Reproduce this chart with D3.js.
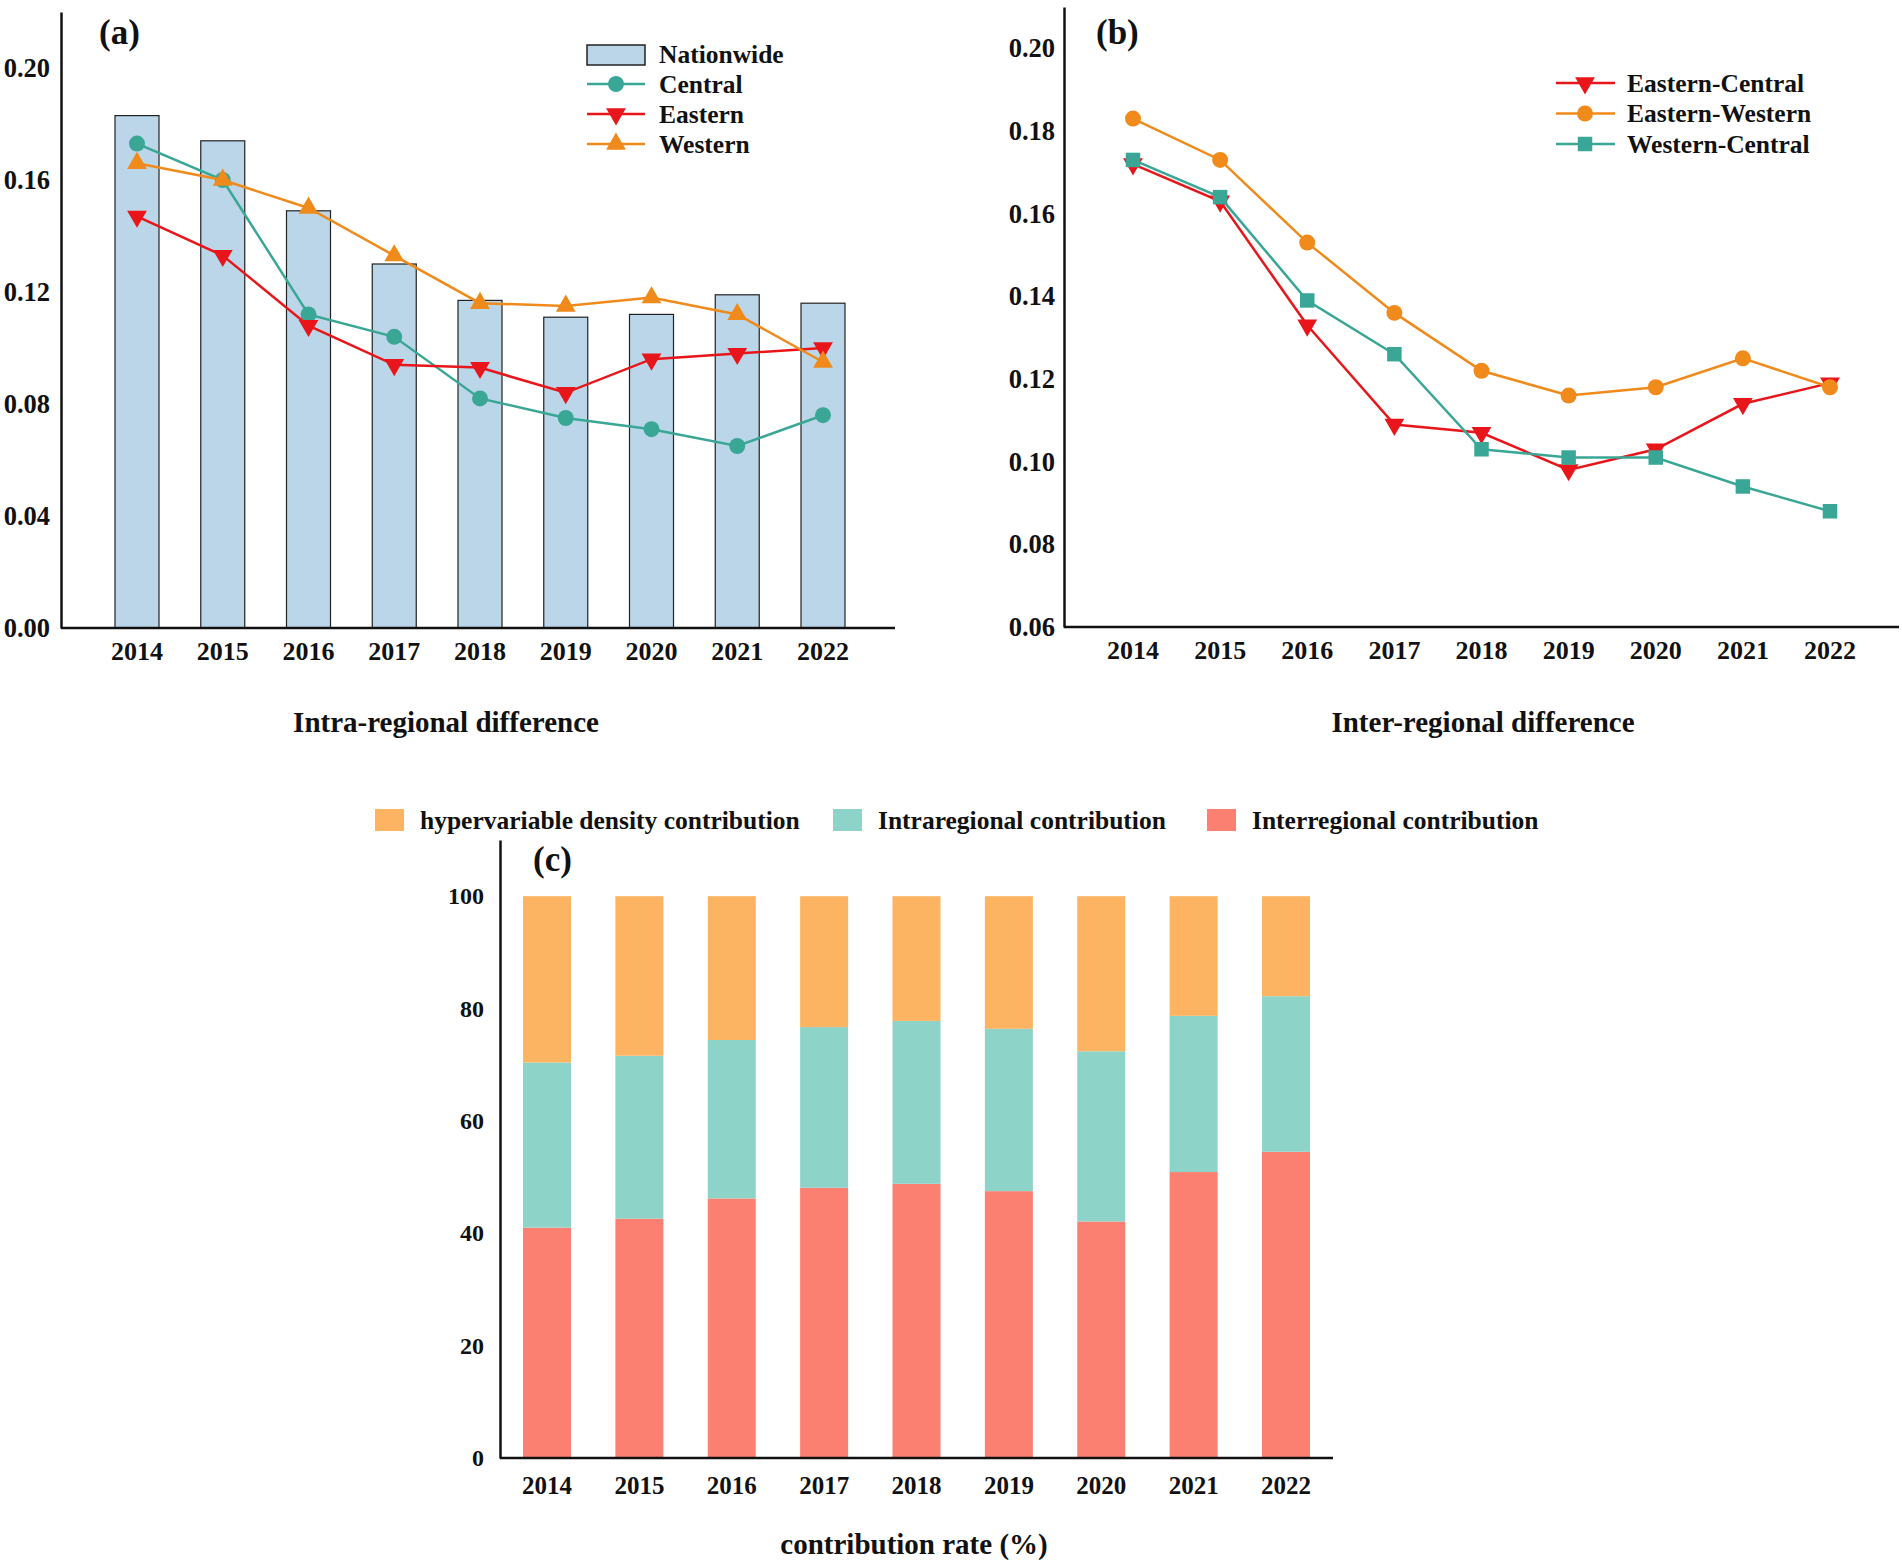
<!DOCTYPE html>
<html>
<head>
<meta charset="utf-8">
<script src="https://cdn.jsdelivr.net/npm/d3@7"></script>
<style>
    body { margin: 0; background: #fff; }
    text { font-family: "Liberation Serif", "Times New Roman", serif; font-weight: bold; fill: #111; }
</style>
</head>
<body>
<svg id="chart" width="1902" height="1563"></svg>
<script>
// roky na ose x (spolecne pro vsechny tri grafy)
const years = ["2014", "2015", "2016", "2017", "2018", "2019", "2020", "2021", "2022"];

// (a) vnitroregionalni rozdily
const nationwide = [0.183, 0.174, 0.149, 0.130, 0.117, 0.111, 0.112, 0.119, 0.116];
const central    = [0.173, 0.160, 0.112, 0.104, 0.082, 0.075, 0.071, 0.065, 0.076];
const eastern    = [0.147, 0.133, 0.108, 0.094, 0.093, 0.084, 0.096, 0.098, 0.100];
const western    = [0.166, 0.160, 0.150, 0.133, 0.116, 0.115, 0.118, 0.112, 0.095];
const ticksA = [0, 0.04, 0.08, 0.12, 0.16, 0.20];

// (b) mezi regiony
const easternCentral = [0.172, 0.163, 0.133, 0.109, 0.107, 0.098, 0.103, 0.114, 0.119];
const easternWestern = [0.183, 0.173, 0.153, 0.136, 0.122, 0.116, 0.118, 0.125, 0.118];
const westernCentral = [0.173, 0.164, 0.139, 0.126, 0.103, 0.101, 0.101, 0.094, 0.088];
const ticksB = [0.06, 0.08, 0.10, 0.12, 0.14, 0.16, 0.18, 0.20];

// (c) prispevky v procentech
const interregional = [41.0, 42.6, 46.2, 48.1, 48.8, 47.5, 42.1, 50.9, 54.5];
const intraregional = [29.4, 29.0, 28.2, 28.6, 29.0, 28.9, 30.3, 27.8, 27.7];
const hypervariable = [29.6, 28.4, 25.6, 23.3, 22.2, 23.6, 27.6, 21.3, 17.8];
const ticksC = [0, 20, 40, 60, 80, 100];

// barvy
const teal = "#3aa796", red = "#e8161a", orange = "#ef8a1b", barBlue = "#bcd6e9";
const set3 = { hyper: "#fdb462", intra: "#8dd3c7", inter: "#fb8072" };

const svg = d3.select("#chart");
svg.append("rect").attr("width", 1902).attr("height", 1563).attr("fill", "#fff");

// symboly
const circleSym = d3.symbol().type(d3.symbolCircle).size(200);
const triSym = d3.symbol().type(d3.symbolTriangle).size(170);
const squareSym = d3.symbol().type(d3.symbolSquare).size(210);

// vykresleni osy y bez carek, jen popisky a cara
function drawYAxis(g, scale, ticks, fmt, x, pad, fs) {
    const ax = g.append("g")
        .attr("transform", "translate(" + x + ",0)")
        .call(d3.axisLeft(scale).tickValues(ticks).tickFormat(fmt).tickSize(0).tickSizeOuter(0).tickPadding(pad));
    ax.select(".domain").attr("stroke", "#111").attr("stroke-width", 2.5);
    ax.selectAll("text").attr("font-size", fs).attr("font-family", null);
}

// osa x s roky
function drawXAxis(g, scale, y, x0, x1, labelY, fs) {
    g.append("line")
        .attr("x1", x0).attr("x2", x1).attr("y1", y).attr("y2", y)
        .attr("stroke", "#111").attr("stroke-width", 2.5);
    g.selectAll(".year")
        .data(years)
        .join("text")
        .attr("x", d => scale(d))
        .attr("y", labelY)
        .attr("text-anchor", "middle")
        .attr("font-size", fs)
        .text(d => d);
}

// cara se znackami
function drawSeries(g, xs, ys, values, color, sym, rotate) {
    const line = d3.line().x((d, i) => xs(years[i])).y(d => ys(d));
    g.append("path")
        .datum(values)
        .attr("d", line)
        .attr("fill", "none")
        .attr("stroke", color)
        .attr("stroke-width", 2.5);
    g.selectAll(null)
        .data(values)
        .join("path")
        .attr("d", sym)
        .attr("fill", color)
        .attr("transform", (d, i) => "translate(" + xs(years[i]) + "," + ys(d) + ")" + (rotate ? " rotate(180)" : ""));
}

// ---------- (a) ----------
const gA = svg.append("g");
const xA = d3.scalePoint().domain(years).range([137, 823]);
const yA = d3.scaleLinear().domain([0, 0.22]).range([628, 12]);
const barW = 44;

gA.selectAll(".bar")
    .data(nationwide)
    .join("rect")
    .attr("x", (d, i) => xA(years[i]) - barW / 2)
    .attr("y", d => yA(d))
    .attr("width", barW)
    .attr("height", d => yA(0) - yA(d))
    .attr("fill", barBlue)
    .attr("stroke", "#222")
    .attr("stroke-width", 1.2);

drawSeries(gA, xA, yA, central, teal, circleSym, false);
drawSeries(gA, xA, yA, eastern, red, triSym, true);
drawSeries(gA, xA, yA, western, orange, triSym, false);

drawYAxis(gA, yA, ticksA, d3.format(".2f"), 61, 11, 26.5);
drawXAxis(gA, xA, 628, 61, 895, 660, 26);

gA.append("text").attr("x", 99).attr("y", 44).attr("font-size", 35).text("(a)");
gA.append("text").attr("x", 446).attr("y", 732).attr("text-anchor", "middle")
    .attr("font-size", 29).text("Intra-regional difference");

// legenda (a)
const legA = gA.append("g");
legA.append("rect").attr("x", 587).attr("y", 45).attr("width", 58).attr("height", 20)
    .attr("fill", barBlue).attr("stroke", "#222").attr("stroke-width", 1.5);
const legAItems = [
    { name: "Central", color: teal, sym: circleSym, rot: false },
    { name: "Eastern", color: red, sym: triSym, rot: true },
    { name: "Western", color: orange, sym: triSym, rot: false }
];
legAItems.forEach((it, i) => {
    const y = 84 + i * 30;
    legA.append("line").attr("x1", 587).attr("x2", 645).attr("y1", y).attr("y2", y)
        .attr("stroke", it.color).attr("stroke-width", 2.5);
    legA.append("path").attr("d", it.sym).attr("fill", it.color)
        .attr("transform", "translate(616," + y + ")" + (it.rot ? " rotate(180)" : ""));
});
["Nationwide", "Central", "Eastern", "Western"].forEach((t, i) => {
    legA.append("text").attr("x", 659).attr("y", 54 + i * 30).attr("dy", "0.35em")
        .attr("font-size", 25.5).text(t);
});

// ---------- (b) ----------
const gB = svg.append("g");
const xB = d3.scalePoint().domain(years).range([1133, 1830]);
const yB = d3.scaleLinear().domain([0.06, 0.21]).range([627, 7]);

drawSeries(gB, xB, yB, easternCentral, red, triSym, true);
drawSeries(gB, xB, yB, easternWestern, orange, circleSym, false);
drawSeries(gB, xB, yB, westernCentral, teal, squareSym, false);

drawYAxis(gB, yB, ticksB, d3.format(".2f"), 1064, 9, 26.5);
drawXAxis(gB, xB, 627, 1064, 1899, 659, 26);

gB.append("text").attr("x", 1096).attr("y", 44).attr("font-size", 35).text("(b)");
gB.append("text").attr("x", 1483).attr("y", 732).attr("text-anchor", "middle")
    .attr("font-size", 29).text("Inter-regional difference");

// legenda (b)
const legB = gB.append("g");
const legBItems = [
    { name: "Eastern-Central", color: red, sym: triSym, rot: true },
    { name: "Eastern-Western", color: orange, sym: circleSym, rot: false },
    { name: "Western-Central", color: teal, sym: squareSym, rot: false }
];
legBItems.forEach((it, i) => {
    const y = 83 + i * 30.5;
    legB.append("line").attr("x1", 1556).attr("x2", 1615).attr("y1", y).attr("y2", y)
        .attr("stroke", it.color).attr("stroke-width", 2.5);
    legB.append("path").attr("d", it.sym).attr("fill", it.color)
        .attr("transform", "translate(1585," + y + ")" + (it.rot ? " rotate(180)" : ""));
    legB.append("text").attr("x", 1627).attr("y", y).attr("dy", "0.35em")
        .attr("font-size", 25.5).text(it.name);
});

// ---------- (c) ----------
const gC = svg.append("g");
const xC = d3.scalePoint().domain(years).range([547, 1286]);
const yC = d3.scaleLinear().domain([0, 110]).range([1458, 840]);
const barWC = 48;

// skladani sloupcu
const keys = ["inter", "intra", "hyper"];
const rows = years.map((y, i) => ({ year: y, inter: interregional[i], intra: intraregional[i], hyper: hypervariable[i] }));
const stack = d3.stack().keys(keys)(rows);

gC.selectAll(".layer")
    .data(stack)
    .join("g")
    .attr("fill", d => set3[d.key])
    .selectAll("rect")
    .data(d => d)
    .join("rect")
    .attr("x", d => xC(d.data.year) - barWC / 2)
    .attr("y", d => yC(d[1]))
    .attr("width", barWC)
    .attr("height", d => yC(d[0]) - yC(d[1]));

drawYAxis(gC, yC, ticksC, d3.format("d"), 500, 16, 24);
drawXAxis(gC, xC, 1458, 500, 1333, 1494, 25);

gC.append("text").attr("x", 533).attr("y", 871).attr("font-size", 35).text("(c)");
gC.append("text").attr("x", 914).attr("y", 1554).attr("text-anchor", "middle")
    .attr("font-size", 29).text("contribution rate (%)");

// legenda (c)
const legC = [
    { name: "hypervariable density contribution", key: "hyper", x: 375 },
    { name: "Intraregional contribution", key: "intra", x: 833 },
    { name: "Interregional contribution", key: "inter", x: 1207 }
];
legC.forEach(it => {
    gC.append("rect").attr("x", it.x).attr("y", 809).attr("width", 29).attr("height", 22)
        .attr("fill", set3[it.key]);
    gC.append("text").attr("x", it.x + 45).attr("y", 820).attr("dy", "0.35em")
        .attr("font-size", 25.5).text(it.name);
});
</script>
</body>
</html>
